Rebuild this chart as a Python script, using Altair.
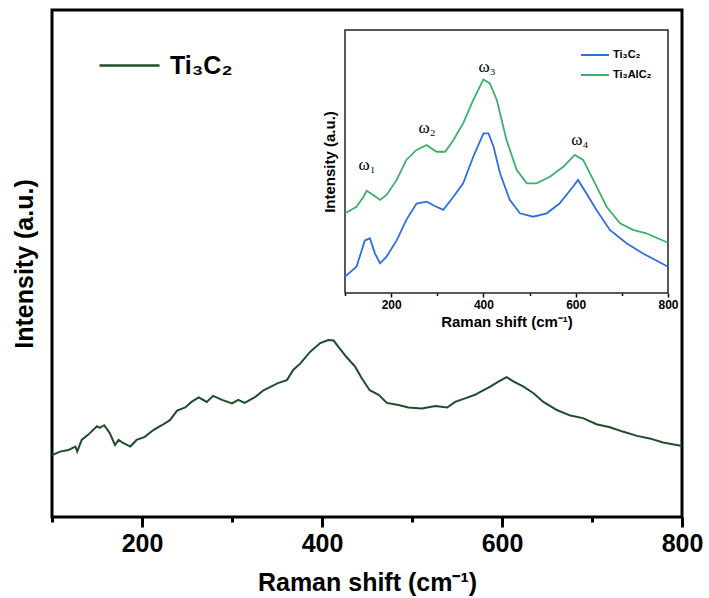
import altair as alt
import pandas as pd

# ---------------- data ----------------
main_series = "Ti₃C₂"
main_x = [100, 109, 118, 126, 128, 133, 140, 150, 153, 158, 164, 170, 174, 179, 187,
          194, 203, 213, 222, 231, 239, 248, 255, 263, 272, 279, 289, 300, 307, 314,
          326, 335, 340, 351, 361, 368, 376, 387, 398, 407, 413, 418, 427, 437, 444,
          453, 463, 472, 485, 496, 511, 526, 539, 548, 559, 570, 576, 587, 596, 605,
          613, 624, 635, 646, 661, 676, 690, 705, 720, 735, 750, 764, 779, 800]
main_y = [12.2, 12.9, 13.2, 13.9, 12.9, 15.2, 16.2, 17.9, 17.6, 18.1, 16.6, 14.2, 15.2, 14.6, 13.9,
          15.2, 15.8, 17.2, 18.1, 19.1, 21.0, 21.6, 22.7, 23.6, 22.7, 23.9, 23.1, 22.4, 23.1, 22.5,
          23.7, 25.0, 25.4, 26.4, 27.0, 29.0, 30.3, 32.6, 34.3, 34.9, 34.8, 33.6, 31.6, 29.6, 27.4,
          25.0, 24.1, 22.5, 22.1, 21.6, 21.4, 21.9, 21.6, 22.7, 23.4, 24.1, 24.7, 25.7, 26.7, 27.6,
          26.7, 25.7, 24.4, 22.7, 21.1, 20.0, 19.5, 18.3, 17.7, 16.8, 16.0, 15.5, 14.7, 14.0]

inset_series = ["Ti₃C₂", "Ti₃AlC₂"]
inset_x_ti3c2 = [100, 125, 143, 154, 165, 176, 190, 212, 233, 255, 277, 298, 313, 335, 356, 378, 400,
                 411, 422, 436, 457, 479, 508, 537, 565, 594, 605, 623, 645, 674, 710, 746, 800]
inset_y_ti3c2 = [6.2, 10, 20, 20.8, 15, 11.3, 13.8, 20, 27.8, 34, 34.7, 32.8, 31.6, 36.6, 41.7, 51.8, 60.7,
                 60.7, 55.6, 45.5, 35.4, 30.3, 29, 30.3, 34, 40.4, 43, 37.9, 31.6, 24, 18.9, 15, 10]
inset_x_ti3alc2 = [100, 125, 140, 147, 161, 176, 190, 212, 233, 255, 277, 298, 317, 335, 356, 378, 400,
                   414, 429, 450, 472, 494, 515, 544, 573, 598, 616, 638, 667, 696, 724, 753, 800]
inset_y_ti3alc2 = [30.3, 32.8, 36.6, 38.9, 37.3, 35.4, 37.3, 43, 50.6, 54.4, 56.3, 53.7, 53.7, 58.2, 64.5, 73.4, 81.2,
                   79.7, 73.4, 58.2, 46.8, 41.7, 41.7, 44.2, 48, 52.5, 50.6, 43, 32.8, 26.5, 24, 22.7, 19.1]

peak_labels = ["ω₁", "ω₂", "ω₃", "ω₄"]
peak_x = [148, 278, 408, 609]
peak_y = [48.7, 62.7, 85.9, 58.2]

x_ticks = [100, 200, 300, 400, 500, 600, 700, 800]
x_domain = [100, 800]
y_domain = [0, 100]

# ---------------- tables ----------------
main_df = pd.DataFrame({"shift": main_x, "intensity": main_y, "series": main_series})
inset_df = pd.concat([
    pd.DataFrame({"shift": inset_x_ti3c2, "intensity": inset_y_ti3c2, "series": inset_series[0]}),
    pd.DataFrame({"shift": inset_x_ti3alc2, "intensity": inset_y_ti3alc2, "series": inset_series[1]}),
], ignore_index=True)
peaks_df = pd.DataFrame({"shift": peak_x, "intensity": peak_y, "label": peak_labels})
frame_df = pd.DataFrame({"shift": [x_domain[0]], "shift2": [x_domain[1]],
                         "intensity": [y_domain[0]], "intensity2": [y_domain[1]]})

FONT = "Liberation Sans"
label_expr = "datum.value % 200 == 0 ? datum.label : ''"

# ---------------- main chart ----------------
main_line = alt.Chart(main_df).mark_line(strokeWidth=2).encode(
    x=alt.X("shift:Q",
            scale=alt.Scale(domain=x_domain, nice=False, zero=False),
            axis=alt.Axis(orient="bottom", values=x_ticks, labelExpr=label_expr,
                          tickSize={"condition": {"test": "datum.value % 200 == 0", "value": 10}, "value": 5},
                          tickWidth=3, tickColor="black", domain=False, grid=False,
                          labelFontSize=25, labelFontWeight="bold", labelColor="black",
                          labelPadding=4, labelFlush=False, labelOverlap=False,
                          title="Raman shift (cm⁻¹)", titleFontSize=25, titleFontWeight="bold",
                          titleColor="black", titlePadding=14)),
    y=alt.Y("intensity:Q",
            scale=alt.Scale(domain=y_domain, nice=False, zero=False),
            axis=alt.Axis(orient="left", labels=False, ticks=False, domain=False, grid=False,
                          title="Intensity (a.u.)", titleFontSize=25, titleFontWeight="bold",
                          titleColor="black", titlePadding=15)),
    color=alt.Color("series:N",
                    scale=alt.Scale(domain=[main_series], range=["#1e4d2b"]),
                    legend=alt.Legend(title=None, orient="none", legendX=46, legendY=24,
                                      symbolType="stroke", symbolSize=3600, symbolStrokeWidth=2.5,
                                      labelFontSize=25, labelFontWeight="bold", labelColor="black",
                                      labelOffset=9, padding=0)),
)

# ---------------- inset ----------------
ix_scale = alt.Scale(domain=x_domain, range=[293, 616], nice=False, zero=False)
iy_scale = alt.Scale(domain=y_domain, range=[283, 20], nice=False, zero=False)
ix_axis = alt.Axis(orient="bottom", offset=-224, values=x_ticks, labelExpr=label_expr,
                   tickSize={"condition": {"test": "datum.value % 200 == 0", "value": 4}, "value": 2.5},
                   tickWidth=1.5, tickColor="black", domain=False, grid=False,
                   labelFontSize=12, labelFontWeight="bold", labelColor="black",
                   labelPadding=2, labelFlush=False, labelOverlap=False,
                   title="Raman shift (cm⁻¹)", titleFontSize=15, titleFontWeight="bold",
                   titleColor="black", titlePadding=4)
iy_axis = alt.Axis(orient="left", offset=-293, labels=False, ticks=False, domain=False, grid=False,
                   title="Intensity (a.u.)", titleFontSize=15, titleFontWeight="bold",
                   titleColor="black", titlePadding=8)

frame = alt.Chart(frame_df).mark_rect(filled=False, stroke="#222222", strokeWidth=1.5).encode(
    x=alt.X("shift:Q", scale=ix_scale, axis=ix_axis),
    x2="shift2:Q",
    y=alt.Y("intensity:Q", scale=iy_scale, axis=iy_axis),
    y2="intensity2:Q",
)

inset_lines = alt.Chart(inset_df).mark_line(strokeWidth=1.8).encode(
    x=alt.X("shift:Q", scale=ix_scale, axis=ix_axis),
    y=alt.Y("intensity:Q", scale=iy_scale, axis=iy_axis),
    color=alt.Color("series:N",
                    scale=alt.Scale(domain=inset_series, range=["#2d6fe0", "#3cb06a"]),
                    sort=inset_series,
                    legend=alt.Legend(title=None, orient="none", legendX=528, legendY=30,
                                      symbolType="stroke", symbolSize=784, symbolStrokeWidth=2,
                                      labelFontSize=11, labelFontWeight="bold", labelColor="black",
                                      labelOffset=3, padding=0, rowPadding=-3)),
    detail="series:N",
)

peaks = alt.Chart(peaks_df).mark_text(font="Liberation Serif", fontSize=17, align="center",
                                      baseline="middle", color="black").encode(
    x=alt.X("shift:Q", scale=ix_scale, axis=ix_axis),
    y=alt.Y("intensity:Q", scale=iy_scale, axis=iy_axis),
    text="label:N",
)

inset = alt.layer(frame, inset_lines, peaks)

chart = alt.layer(main_line, inset).resolve_scale(
    x="independent", y="independent", color="independent"
).properties(
    width=630, height=507,
    autosize=alt.AutoSizeParams(type="none"),
    padding={"left": 52, "top": 10, "right": 27, "bottom": 81},
    background="white",
).configure(
    font=FONT
).configure_view(
    stroke="black", strokeWidth=3
)

chart.save("out.html", embed_options={"renderer": "svg", "actions": False})
